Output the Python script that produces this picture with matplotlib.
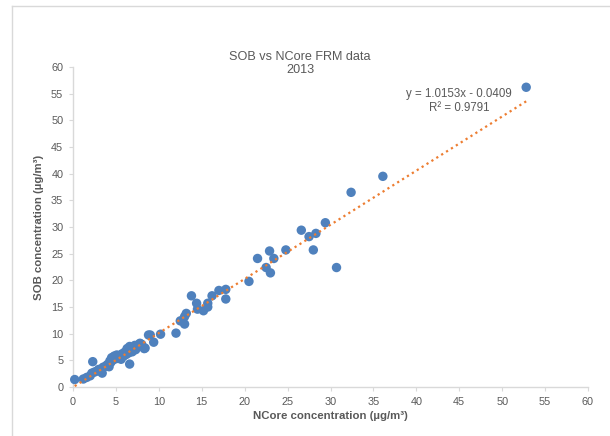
import matplotlib
matplotlib.use("Agg")
import matplotlib.pyplot as plt
from matplotlib.lines import Line2D
import numpy as np

plt.rcParams['font.family'] = ['Liberation Sans', 'DejaVu Sans']

# NCore (x) vs SOB (y) concentrations, ug/m3
ncore = [0.2, 1.2, 1.6, 2.0, 2.2, 2.3, 2.5, 2.8, 3.0, 3.3, 3.4, 3.5, 3.8, 4.0, 4.2,
         4.3, 4.4, 4.5, 4.6, 4.8, 5.0, 5.1, 5.3, 5.5, 5.6, 5.7, 5.9, 6.0, 6.2, 6.3,
         6.4, 6.5, 6.6, 6.6, 6.8, 6.9, 7.0, 7.2, 7.3, 7.5, 7.7, 7.8, 8.0, 8.3, 8.4,
         8.8, 9.0, 9.4, 10.2, 12.0, 12.5, 13.0, 13.0, 13.2, 13.8, 14.4, 14.5, 15.2,
         15.7, 15.7, 16.2, 17.0, 17.8, 17.8, 20.5, 21.5, 22.5, 22.9, 23.0, 23.4,
         24.8, 26.6, 27.5, 28.0, 28.3, 29.4, 30.7, 32.4, 36.1, 52.8]
sob = [1.4, 1.5, 1.8, 2.1, 2.6, 4.75, 2.8, 3.0, 3.3, 3.0, 2.6, 3.7, 3.9, 4.2, 3.8,
       4.9, 4.6, 5.5, 5.0, 5.8, 5.3, 6.0, 5.6, 5.9, 5.2, 6.2, 5.8, 6.5, 6.1, 7.2,
       6.8, 6.4, 7.6, 4.3, 7.0, 6.6, 7.4, 7.8, 7.0, 7.5, 8.0, 8.2, 8.0, 7.2, 7.3,
       9.75, 9.75, 8.4, 9.9, 10.1, 12.4, 13.2, 11.8, 13.8, 17.1, 15.7, 14.6, 14.3,
       15.7, 15.0, 17.1, 18.1, 18.3, 16.5, 19.8, 24.1, 22.4, 25.5, 21.4, 24.1,
       25.7, 29.4, 28.2, 25.7, 28.8, 30.8, 22.4, 36.5, 39.5, 56.2]

slope = 1.0153
intercept = -0.0409
r2 = 0.9791

ticks = list(range(0, 61, 5))

W, H = 610, 436
fig = plt.figure(figsize=(W / 100, H / 100), dpi=100)
ax = fig.add_axes([73 / W, 1 - 387 / H, (588 - 73) / W, (387 - 67) / H])

ax.scatter(ncore, sob, s=46, color='#4f81bd', edgecolors='none', zorder=3, clip_on=False)

xs = np.array([min(ncore), max(ncore)])
ax.plot(xs, slope * xs + intercept, color='#ed7d31', linewidth=1.6,
        linestyle=(0, (1, 1.6)), zorder=4)

ax.set_xlim(0, 60)
ax.set_ylim(0, 60)
ax.set_xticks(ticks)
ax.set_yticks(ticks)
ax.tick_params(axis='both', labelsize=7.8, colors='#595959', length=3, width=0.8,
               direction='out', pad=4)
ax.tick_params(axis='both', color='#d9d9d9')
for side in ['top', 'right']:
    ax.spines[side].set_visible(False)
for side in ['left', 'bottom']:
    ax.spines[side].set_color('#d9d9d9')
    ax.spines[side].set_linewidth(1.0)

ax.set_xlabel('NCore concentration (µg/m³)', fontsize=8.2, fontweight='bold',
              color='#595959', labelpad=3)
ax.set_ylabel('SOB concentration (µg/m³)', fontsize=8.2, fontweight='bold',
              color='#595959', labelpad=5)

fig.text(300 / W, 1 - 57 / H, 'SOB vs NCore FRM data', ha='center', va='center',
         fontsize=9.1, color='#595959')
fig.text(300 / W, 1 - 70 / H, '2013', ha='center', va='center',
         fontsize=9.1, color='#595959')

fig.text(459 / W, 1 - 94 / H, f'y = {slope}x - {abs(intercept)}', ha='center',
         va='center', fontsize=8.3, color='#595959')
fig.text(459 / W, 1 - 108 / H, f'R² = {r2}', ha='center', va='center',
         fontsize=8.3, color='#595959')

# outer chart frame (top and left visible)
fig.add_artist(Line2D([12.5 / W, 1], [1 - 6.5 / H, 1 - 6.5 / H],
                      transform=fig.transFigure, color='#d9d9d9', linewidth=1))
fig.add_artist(Line2D([12.5 / W, 12.5 / W], [0, 1 - 6.5 / H],
                      transform=fig.transFigure, color='#d9d9d9', linewidth=1))

fig.savefig('out.png', dpi=100, facecolor='white')
